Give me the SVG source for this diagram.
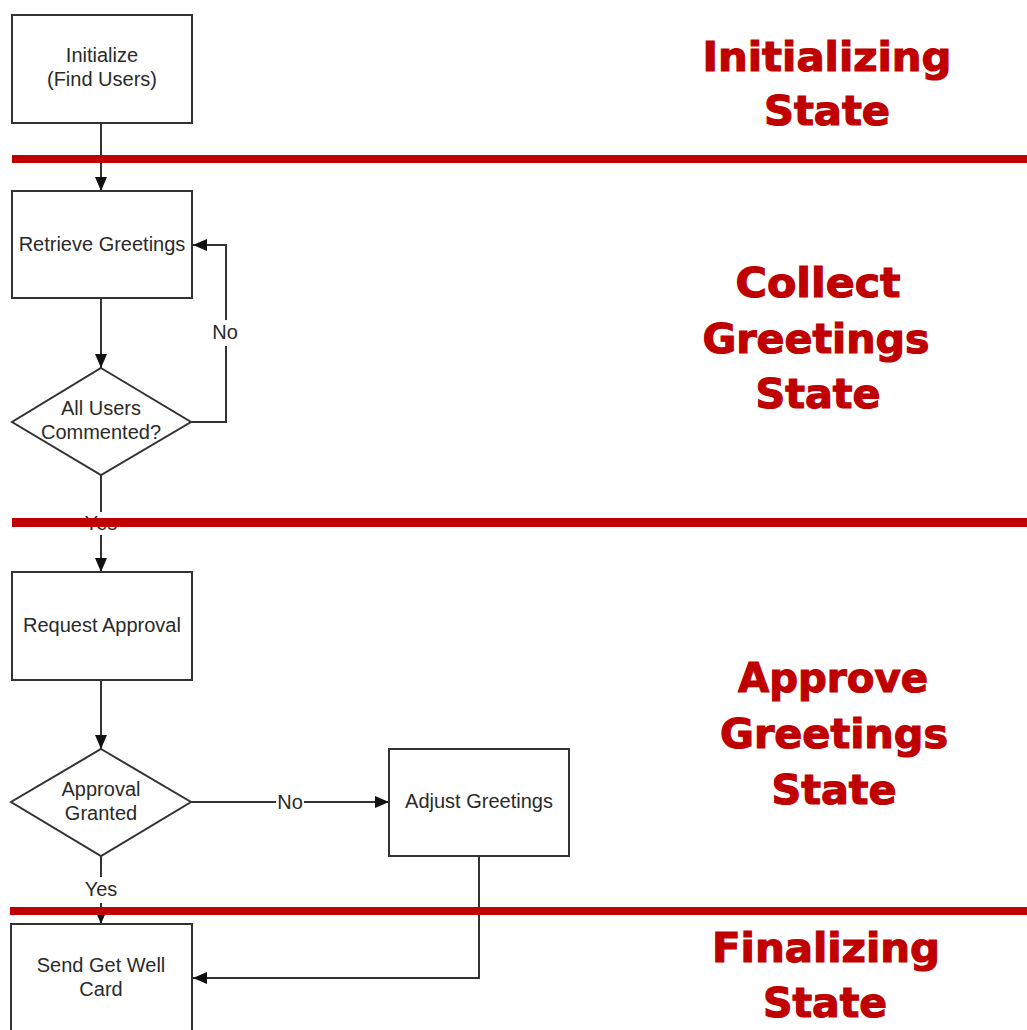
<svg xmlns="http://www.w3.org/2000/svg" width="1027" height="1030" viewBox="0 0 1027 1030">
  <defs>
    <marker id="arrow" viewBox="0 0 14 12" refX="14" refY="6" markerWidth="14" markerHeight="12" markerUnits="userSpaceOnUse" orient="auto">
      <path d="M0,0 L14,6 L0,12 Z" fill="#111"/>
    </marker>
    <style>
      .shape { fill: #fff; stroke: #333; stroke-width: 2; }
      .label { font-family: "Liberation Sans", Arial, sans-serif; font-size: 20px; fill: #2a2a2a; text-anchor: middle; }
      .edge { fill: none; stroke: #333; stroke-width: 2; }
      .gap { fill: #fff; stroke: none; }
      .divider { fill: #c00000; }
      .state { font-family: "DejaVu Sans", "Liberation Sans", sans-serif; font-weight: bold; font-size: 40px; fill: #c00000; stroke: #c00000; stroke-width: 1.2; text-anchor: middle; }
    </style>
  </defs>

  <rect width="1027" height="1030" fill="#fff"/>

  <!-- connectors -->
  <g id="connectors">
    <path class="edge" d="M101,123 V191" marker-end="url(#arrow)"/>
    <path class="edge" d="M101,298 V368" marker-end="url(#arrow)"/>
    <path class="edge" d="M191,422 H226 V245 H193" marker-end="url(#arrow)"/>
    <rect class="gap" x="212" y="320" width="28" height="26"/>
    <text class="label" x="225" y="339">No</text>
    <path class="edge" d="M101,475 V572" marker-end="url(#arrow)"/>
    <rect class="gap" x="84" y="512" width="34" height="23"/>
    <text class="label" x="101" y="530">Yes</text>
    <path class="edge" d="M101,680 V749" marker-end="url(#arrow)"/>
    <path class="edge" d="M191,802 H389" marker-end="url(#arrow)"/>
    <rect class="gap" x="276" y="790" width="28" height="24"/>
    <text class="label" x="290" y="809">No</text>
    <path class="edge" d="M101,856 V924" marker-end="url(#arrow)"/>
    <rect class="gap" x="84" y="877" width="34" height="26"/>
    <text class="label" x="101" y="896">Yes</text>
    <path class="edge" d="M479,856 V978 H193" marker-end="url(#arrow)"/>
  </g>

  <!-- nodes -->
  <g id="initialize">
    <rect class="shape" x="12" y="15" width="180" height="108"/>
    <text class="label" x="102" y="62">Initialize</text>
    <text class="label" x="102" y="86">(Find Users)</text>
  </g>
  <g id="retrieve-greetings">
    <rect class="shape" x="12" y="191" width="180" height="107"/>
    <text class="label" x="102" y="251">Retrieve Greetings</text>
  </g>
  <g id="all-users-commented">
    <polygon class="shape" points="101,368 191,422 101,475 12,422"/>
    <text class="label" x="101" y="415">All Users</text>
    <text class="label" x="101" y="439">Commented?</text>
  </g>
  <g id="request-approval">
    <rect class="shape" x="12" y="572" width="180" height="108"/>
    <text class="label" x="102" y="632">Request Approval</text>
  </g>
  <g id="approval-granted">
    <polygon class="shape" points="101,749 191,802 101,856 11,802"/>
    <text class="label" x="101" y="796">Approval</text>
    <text class="label" x="101" y="820">Granted</text>
  </g>
  <g id="adjust-greetings">
    <rect class="shape" x="389" y="749" width="180" height="107"/>
    <text class="label" x="479" y="808">Adjust Greetings</text>
  </g>
  <g id="send-get-well-card">
    <rect class="shape" x="11" y="924" width="181" height="120"/>
    <text class="label" x="101" y="972">Send Get Well</text>
    <text class="label" x="101" y="996">Card</text>
  </g>

  <!-- state dividers -->
  <g id="dividers">
    <rect class="divider" x="12" y="155" width="1015" height="8"/>
    <rect class="divider" x="12" y="518" width="1015" height="9"/>
    <rect class="divider" x="10" y="907" width="1017" height="8"/>
  </g>

  <!-- state titles -->
  <g id="state-titles">
    <text class="state" x="827" y="71" textLength="249" lengthAdjust="spacingAndGlyphs">Initializing</text>
    <text class="state" x="827" y="125" textLength="126" lengthAdjust="spacingAndGlyphs">State</text>
    <text class="state" x="818" y="297" textLength="165" lengthAdjust="spacingAndGlyphs">Collect</text>
    <text class="state" x="816" y="353" textLength="227" lengthAdjust="spacingAndGlyphs">Greetings</text>
    <text class="state" x="818" y="408" textLength="125" lengthAdjust="spacingAndGlyphs">State</text>
    <text class="state" x="833" y="692" textLength="190" lengthAdjust="spacingAndGlyphs">Approve</text>
    <text class="state" x="834" y="748" textLength="228" lengthAdjust="spacingAndGlyphs">Greetings</text>
    <text class="state" x="834" y="804" textLength="125" lengthAdjust="spacingAndGlyphs">State</text>
    <text class="state" x="826" y="962" textLength="228" lengthAdjust="spacingAndGlyphs">Finalizing</text>
    <text class="state" x="825" y="1017" textLength="124" lengthAdjust="spacingAndGlyphs">State</text>
  </g>
</svg>
